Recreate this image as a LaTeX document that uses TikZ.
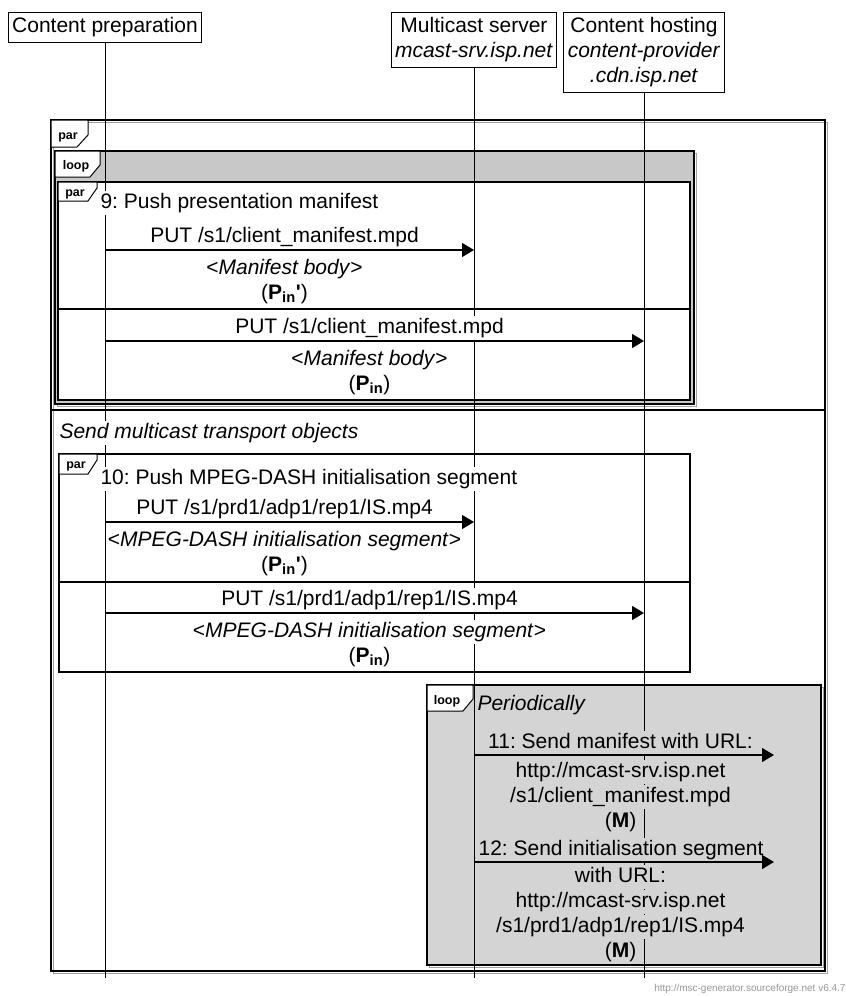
\documentclass[tikz,border=0pt]{standalone}
\usepackage{fontspec}
\setmainfont{Liberation Sans}
\usetikzlibrary{arrows.meta}
\frenchspacing
\definecolor{loopgray}{RGB}{200,200,200}
\definecolor{loopgrayb}{RGB}{212,212,212}
\definecolor{shadegray}{RGB}{160,160,160}
\definecolor{footgray}{RGB}{150,150,150}
\newcommand{\pin}{(\textbf{P\textsubscript{in}})}
\newcommand{\pinp}{(\textbf{P\textsubscript{in}\textquotesingle})}
\begin{document}
\begin{tikzpicture}[x=1pt,y=-1pt,line width=1pt,
  every node/.style={font=\fontsize{21}{25}\selectfont},
  head/.style={draw,fill=white,align=center,inner xsep=4pt,inner ysep=5pt,anchor=north},
  txt/.style={anchor=base,fill=white,inner sep=1pt,text height=16pt,text depth=6pt},
  gtxt/.style={txt,fill=loopgrayb},
  frame/.style={line width=1.3pt},
  shade/.style={draw=shadegray,line width=1pt},
  tag/.style={draw,fill=white,line width=1pt},
  tagtxt/.style={font=\bfseries\fontsize{12.5}{14}\selectfont,anchor=base,inner sep=0pt},
  msg/.style={line width=1.2pt,-{Triangle[length=12pt,width=14pt]}}]
\fill[white] (0,0) rectangle (846,996);
\useasboundingbox (0,0) rectangle (846,996);

% entities
\node[head] (cp) at (105,12) {Content preparation};
\node[head] (ms) at (474,12) {Multicast server\\\textit{mcast-srv.isp.net}};
\node[head] (ch) at (644,12) {Content hosting\\\textit{content-provider}\\\textit{.cdn.isp.net}};

% frames
\draw[shade] (53,122) rectangle (827,973);
\draw[frame] (51,120) rectangle (825,971);
\draw[frame] (51,410) -- (825,410);
\draw[shade] (57,153) rectangle (696,406);
\draw[frame,fill=loopgray] (55,151) rectangle (694,404);
\draw[frame,fill=white] (58,182) rectangle (690,400);
\draw[frame] (58,309) -- (690,309);
\draw[frame] (59,454) rectangle (690,672);
\draw[frame] (59,582) -- (690,582);
\draw[shade] (429,687) rectangle (823,967);
\draw[frame,fill=loopgrayb] (427,685) rectangle (821,965);

% lifelines
\coordinate (cpend) at (cp.south |- 0,978);
\coordinate (msend) at (ms.south |- 0,978);
\coordinate (chend) at (ch.south |- 0,978);
\draw (cp.south) -- (cpend);
\draw (ms.south) -- (msend);
\draw (ch.south) -- (chend);

% tags
\draw[tag] (51,120) -- (88,120) -- (88,135) -- (77,147) -- (51,147) -- cycle;
\node[tagtxt] (tpar) at (68,139) {par};
\draw[tag] (55,151) -- (100,151) -- (100,165) -- (90,177) -- (55,177) -- cycle;
\node[tagtxt] (tloop) at (76,169) {loop};
\draw[tag] (58,182) -- (97,182) -- (97,188) -- (88,201) -- (58,201) -- cycle;
\node[tagtxt] (tpara) at (75,196) {par};
\draw[tag] (59,454) -- (97,454) -- (97,460) -- (88,474) -- (59,474) -- cycle;
\node[tagtxt] (tparb) at (76,468) {par};
\draw[tag] (427,685) -- (473,685) -- (473,699) -- (463,711) -- (427,711) -- cycle;
\node[tagtxt] (tloopb) at (447,704) {loop};

% 9: manifest
\node[txt,anchor=base west] (h9) at (99,208) {9: Push presentation manifest};
\node[txt] (m9a) at (284.5,242) {PUT /s1/client\_manifest.mpd};
\node[txt] (b9a) at (284.5,274) {<\textit{Manifest body}>};
\node[txt] (p9a) at (284.5,299) {\pinp};
\draw[msg] (cp |- 0,250) -- (ms |- 0,250);
\node[txt] (m9b) at (369.5,333) {PUT /s1/client\_manifest.mpd};
\node[txt] (b9b) at (369.5,365) {<\textit{Manifest body}>};
\node[txt] (p9b) at (369.5,390) {\pin};
\draw[msg] (cp |- 0,341) -- (ch |- 0,341);

% 10: init segment
\node[txt,anchor=base west] (hsend) at (58,438) {\textit{Send multicast transport objects}};
\node[txt,anchor=base west] (h10) at (99,484) {10: Push MPEG-DASH initialisation segment};
\node[txt] (m10a) at (284.5,514) {PUT /s1/prd1/adp1/rep1/IS.mp4};
\node[txt] (b10a) at (284.5,546) {<\textit{MPEG-DASH initialisation segment}>};
\node[txt] (p10a) at (284.5,571) {\pinp};
\draw[msg] (cp |- 0,522) -- (ms |- 0,522);
\node[txt] (m10b) at (369.5,605) {PUT /s1/prd1/adp1/rep1/IS.mp4};
\node[txt] (b10b) at (369.5,637) {<\textit{MPEG-DASH initialisation segment}>};
\node[txt] (p10b) at (369.5,662) {\pin};
\draw[msg] (cp |- 0,613) -- (ch |- 0,613);

% periodic announcements
\node[gtxt,anchor=base west] (hper) at (476,710) {\textit{Periodically}};
\coordinate (out11) at (774,755);
\coordinate (out12) at (774,862);
\node[gtxt] (m11) at (620.5,748) {11: Send manifest with URL:};
\node[gtxt] (u11a) at (620.5,777) {http://mcast-srv.isp.net};
\node[gtxt] (u11b) at (620.5,802) {/s1/client\_manifest.mpd};
\node[gtxt] (r11) at (620.5,827) {(\textbf{M})};
\draw[msg] (ms |- out11) -- (out11);
\node[gtxt,inner xsep=0pt] (m12) at (621,855) {12: Send initialisation segment};
\node[gtxt] (w12) at (620.5,882) {with URL:};
\node[gtxt] (u12a) at (620.5,907) {http://mcast-srv.isp.net};
\node[gtxt] (u12b) at (620.5,932) {/s1/prd1/adp1/rep1/IS.mp4};
\node[gtxt] (r12) at (620.5,957) {(\textbf{M})};
\draw[msg] (ms |- out12) -- (out12);

\node[anchor=base east,inner sep=0pt,text=footgray,font=\fontsize{10}{12}\selectfont] (foot) at (846,991) {http://msc-generator.sourceforge.net v6.4.7};
\end{tikzpicture}
\end{document}
